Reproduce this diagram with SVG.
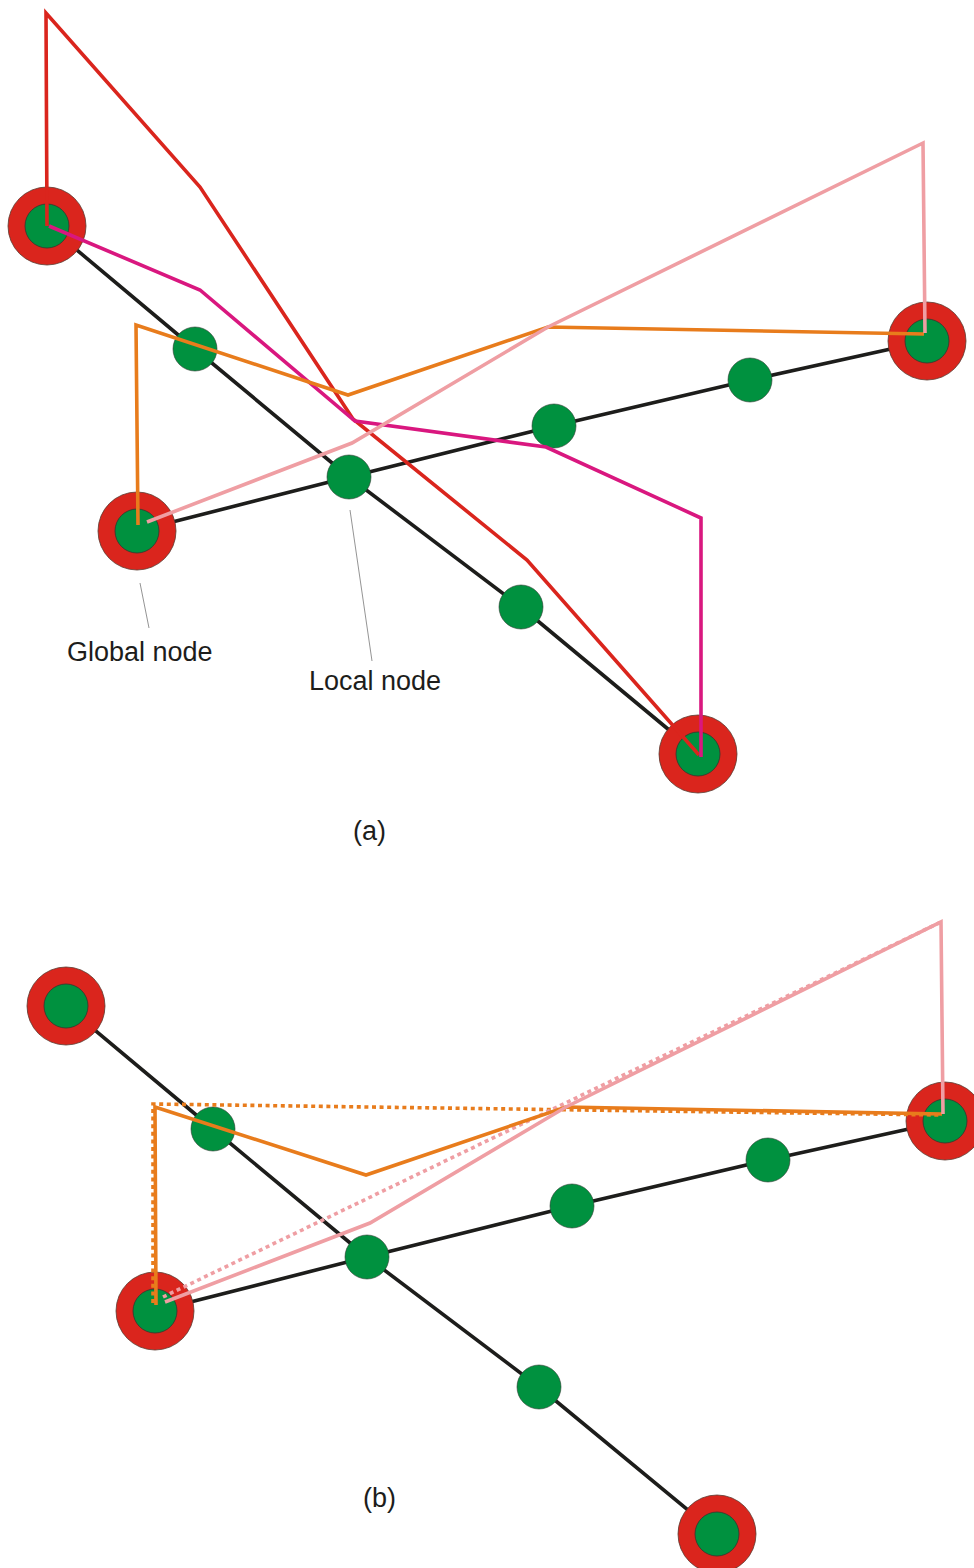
<svg xmlns="http://www.w3.org/2000/svg" width="974" height="1568" viewBox="0 0 974 1568">
<style>
.link{fill:none;stroke:#1d1d1b;stroke-width:3.6}
.gout{fill:#da251d;stroke:#5a3a30;stroke-width:0.8}
.gin{fill:#00913f;stroke:#2d3a30;stroke-width:0.8}
.loc{fill:#00913f;stroke:#2d3a30;stroke-width:0.6}
.r{fill:none;stroke-width:3.6;stroke-linejoin:miter}
.red{stroke:#da251d}
.mag{stroke:#d9177f}
.org{stroke:#e87c1c}
.pnk{stroke:#ef9ea3}
.dot{stroke-dasharray:4 3.6}
.lead{fill:none;stroke:#888;stroke-width:0.9}
.lbl{font-family:"Liberation Sans",Arial,sans-serif;font-size:27px;fill:#1d1d1b}
</style>

<g id="connectors">
  <polyline class="link" points="47,225 195,349 349,477 521,607 698,754"/>
  <polyline class="link" points="137,531 349,477 554,426 750,380 927,341"/>
  <polyline class="link" points="66,1006 213,1129 367,1257 539,1387 717,1534"/>
  <polyline class="link" points="155,1311 367,1257 572,1206 768,1160 945,1121"/>
</g>

<g id="nodes-a">
  <g id="ga1"><circle class="gout" cx="47" cy="226" r="39"/><circle class="gin" cx="47" cy="226" r="22"/></g>
  <g id="ga2"><circle class="gout" cx="927" cy="341" r="39"/><circle class="gin" cx="927" cy="341" r="22"/></g>
  <g id="ga3"><circle class="gout" cx="137" cy="531" r="39"/><circle class="gin" cx="137" cy="531" r="22"/></g>
  <g id="ga4"><circle class="gout" cx="698" cy="754" r="39"/><circle class="gin" cx="698" cy="754" r="22"/></g>
  <g id="la1"><circle class="loc" cx="195" cy="349" r="22"/></g>
  <g id="la2"><circle class="loc" cx="349" cy="477" r="22"/></g>
  <g id="la3"><circle class="loc" cx="521" cy="607" r="22"/></g>
  <g id="la4"><circle class="loc" cx="554" cy="426" r="22"/></g>
  <g id="la5"><circle class="loc" cx="750" cy="380" r="22"/></g>
</g>

<g id="nodes-b">
  <g id="gb1"><circle class="gout" cx="66" cy="1006" r="39"/><circle class="gin" cx="66" cy="1006" r="22"/></g>
  <g id="gb2"><circle class="gout" cx="945" cy="1121" r="39"/><circle class="gin" cx="945" cy="1121" r="22"/></g>
  <g id="gb3"><circle class="gout" cx="155" cy="1311" r="39"/><circle class="gin" cx="155" cy="1311" r="22"/></g>
  <g id="gb4"><circle class="gout" cx="717" cy="1534" r="39"/><circle class="gin" cx="717" cy="1534" r="22"/></g>
  <g id="lb1"><circle class="loc" cx="213" cy="1129" r="22"/></g>
  <g id="lb2"><circle class="loc" cx="367" cy="1257" r="22"/></g>
  <g id="lb3"><circle class="loc" cx="539" cy="1387" r="22"/></g>
  <g id="lb4"><circle class="loc" cx="572" cy="1206" r="22"/></g>
  <g id="lb5"><circle class="loc" cx="768" cy="1160" r="22"/></g>
</g>

<g id="routes">
  <polyline class="r red" points="47,226 46,13 200,187 353,419 527,560 699,755"/>
  <polyline class="r mag" points="49,226 200,290 355,421 546,447 701,518 701,757"/>
  <polyline class="r org" points="138,525 136,325 348,395 548,327 924,334"/>
  <polyline class="r pnk" points="147,522 352,443 548,327 923,143 925,333"/>

  <polyline class="r org dot" points="153,1303 153,1104 942,1115"/>
  <polyline class="r pnk dot" points="163,1297 941,922"/>
  <polyline class="r org" points="156,1305 155,1107 366,1175 566,1107 942,1114"/>
  <polyline class="r pnk" points="165,1302 370,1223 566,1107 941,922 943,1114"/>
</g>

<g id="labels">
  <line class="lead" x1="140" y1="583" x2="149" y2="628"/>
  <line class="lead" x1="350" y1="510" x2="372" y2="661"/>
  <text class="lbl" x="67" y="661">Global node</text>
  <text class="lbl" x="309" y="690">Local node</text>
  <text class="lbl" x="353" y="840">(a)</text>
  <text class="lbl" x="363" y="1507">(b)</text>
</g>
</svg>
